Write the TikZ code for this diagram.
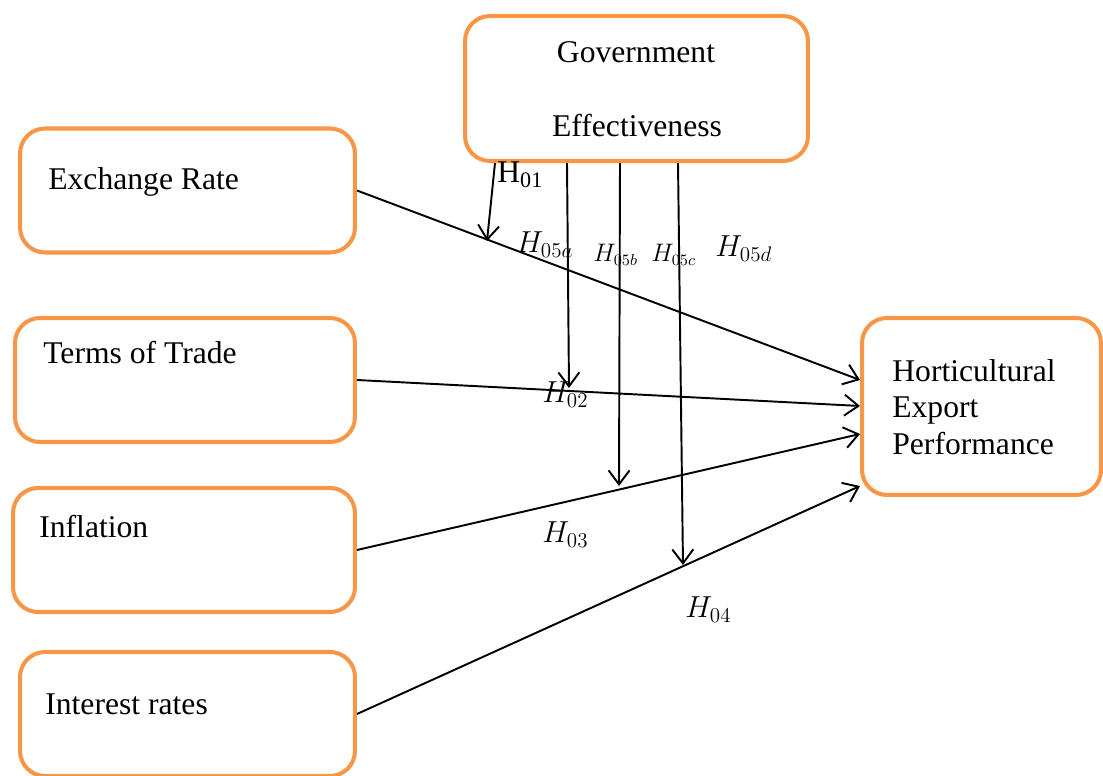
\documentclass[tikz,border=0pt]{standalone}
\usepackage{fontspec}
\setmainfont{Liberation Serif}
\usetikzlibrary{arrows.meta}
\definecolor{boxorange}{HTML}{F79646}

\begin{document}
\begin{tikzpicture}[
   x=0.02cm, y=-0.02cm,
   box/.style={draw=boxorange,line width=2.3pt,rounded corners=0.5cm,
      inner sep=0pt},
   lbl/.style={anchor=base west,inner sep=0pt,
      font=\fontsize{18}{20.8}\selectfont},
   hyp/.style={anchor=base west,inner sep=0pt,
      font=\fontsize{18}{21}\selectfont},
   smallhyp/.style={hyp,font=\fontsize{13.5}{16}\selectfont},
   edge/.style={line width=1.1pt,
      -{Straight Barb[length=0.28cm,width=0.42cm]}}
]
   \useasboundingbox (0,0) rectangle (1103,776);

   % moderator
   \node[box,minimum width=6.86cm,minimum height=2.9cm] (gov) at (636.5,88.5) {};
   \node[lbl,anchor=base] (govtop) at (636,63) {Government};
   \node[lbl,anchor=base] (govbot) at (637,137) {Effectiveness};

   % predictors
   \foreach \n/\x/\y/\w/\tx/\ty/\t in {
      er/187.5/190.5/6.7/48/190/Exchange Rate,
      tot/185/380/6.8/43/364/Terms of Trade,
      inf/184/550/6.84/39/538/Inflation,
      ir/187.5/714/6.7/45/715/Interest rates} {
      \node[box,minimum width=\w cm,minimum height=2.48cm] (\n) at (\x,\y) {};
      \node[lbl] (\n lbl) at (\tx,\ty) {\t};
   }

   % outcome
   \node[box,minimum width=4.78cm,minimum height=3.54cm] (hep) at (981.5,406.5) {};
   \node[lbl] (heplbl1) at (892,382) {Horticultural};
   \node[lbl] (heplbl2) at (892,418) {Export};
   \node[lbl] (heplbl3) at (892,455) {Performance};

   \foreach \n/\ey in {er/380,tot/406,inf/434,ir/486}
      \draw[edge] (\n.east) -- (hep.west |- 0,\ey);

   % moderating arrows
   \coordinate (t01) at (487,241);
   \coordinate (t02) at (569,388);
   \coordinate (t03) at (619,486);
   \coordinate (t04) at (683,565);
   \draw[edge] (gov.south -| 495,0) -- (t01);
   \draw[edge] (gov.south -| 567,0) -- (t02);
   \draw[edge] (gov.south -| 620,0) -- (t03);
   \draw[edge] (gov.south -| 678,0) -- (t04);

   % hypotheses
   \node[hyp] (h01) at (497,183) {H\textsubscript{01}};
   \node[hyp] (h05a) at (516,253) {$H_{05a}$};
   \node[smallhyp] (h05b) at (593,262) {$H_{05b}$};
   \node[smallhyp] (h05c) at (651,262) {$H_{05c}$};
   \node[hyp] (h05d) at (715,257) {$H_{05d}$};
   \node[hyp] (h02) at (542,403) {$H_{02}$};
   \node[hyp] (h03) at (542,543) {$H_{03}$};
   \node[hyp] (h04) at (685,618) {$H_{04}$};
\end{tikzpicture}
\end{document}
